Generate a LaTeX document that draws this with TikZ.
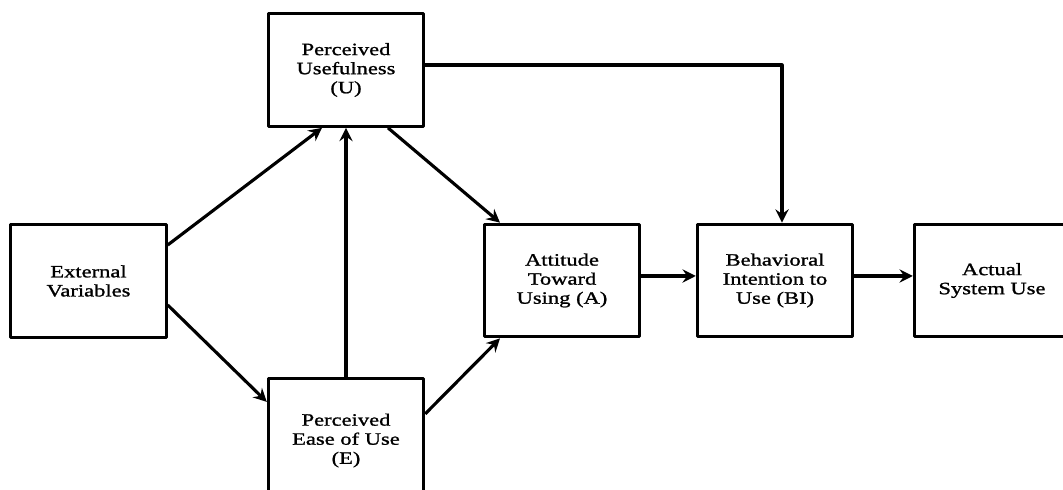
\documentclass[tikz,border=0pt]{standalone}
\usepackage{fontspec}
\setmainfont{Liberation Serif}[FakeStretch=1.3, FakeBold=1.2]
\usepackage{tikz}
\usetikzlibrary{arrows.meta,positioning,shapes}

\begin{document}
\begin{tikzpicture}[
            x = 0.75pt, y = -0.75pt, % reference pixels
            > = {Stealth[length=10pt, width=10pt, inset=3.5pt]}, % arrow head style
            line join = round
        ]

        \tikzstyle{construct}=[
            draw = black,
            line width = 2.3pt,
            fill = white,
            rectangle,
            align = center,
            minimum width = 116.5pt,
            minimum height = 84.5pt,
            font = \fontsize{13pt}{14.3pt}\selectfont
        ]
        \tikzstyle{link}=[
            ->,
            draw = black,
            line width = 2.35pt
        ]

        \useasboundingbox (0,0) rectangle (1063,489);
        \clip (0,0) rectangle (1063,489);

        \node[construct] (ext) [at={(88.5,281)}] {External\\Variables};
        \node[construct] (pu) [at={(346,70)}] {Perceived\\Usefulness\\(U)};
        \node[construct, minimum height = 93pt, anchor = north] (pe) [at={(346,377)}] {Perceived\\Ease of Use\\(E)};
        \node[construct] (att) [at={(562,280.5)}] {Attitude\\Toward\\Using (A)};
        \node[construct] (bi) [at={(775,280.5)}] {Behavioral\\Intention to\\Use (BI)};
        \node[construct] (asu) [at={(992,280.5)}] {Actual\\System Use};

        \draw[link] ([yshift=27pt]ext.east) -- ([xshift=-18pt]pu.south);
        \draw[link] ([yshift=-18pt]ext.east) -- ([yshift=29pt]pe.west);
        \draw[link] (pe.north) -- (pu.south);
        \draw[link] ([xshift=31.5pt]pu.south) -- ([xshift=-46.5pt]att.north);
        \draw[link] ([yshift=20pt]pe.east) -- ([xshift=-46.5pt]att.south);
        \draw[link] ([yshift=3.75pt]pu.east) -| ([xshift=5.25pt]bi.north);
        \draw[link] ([yshift=3.4pt]att.east) -- ([yshift=3.4pt]bi.west);
        \draw[link] ([yshift=3.4pt]bi.east) -- ([yshift=3.4pt]asu.west);
      \end{tikzpicture}
\end{document}
